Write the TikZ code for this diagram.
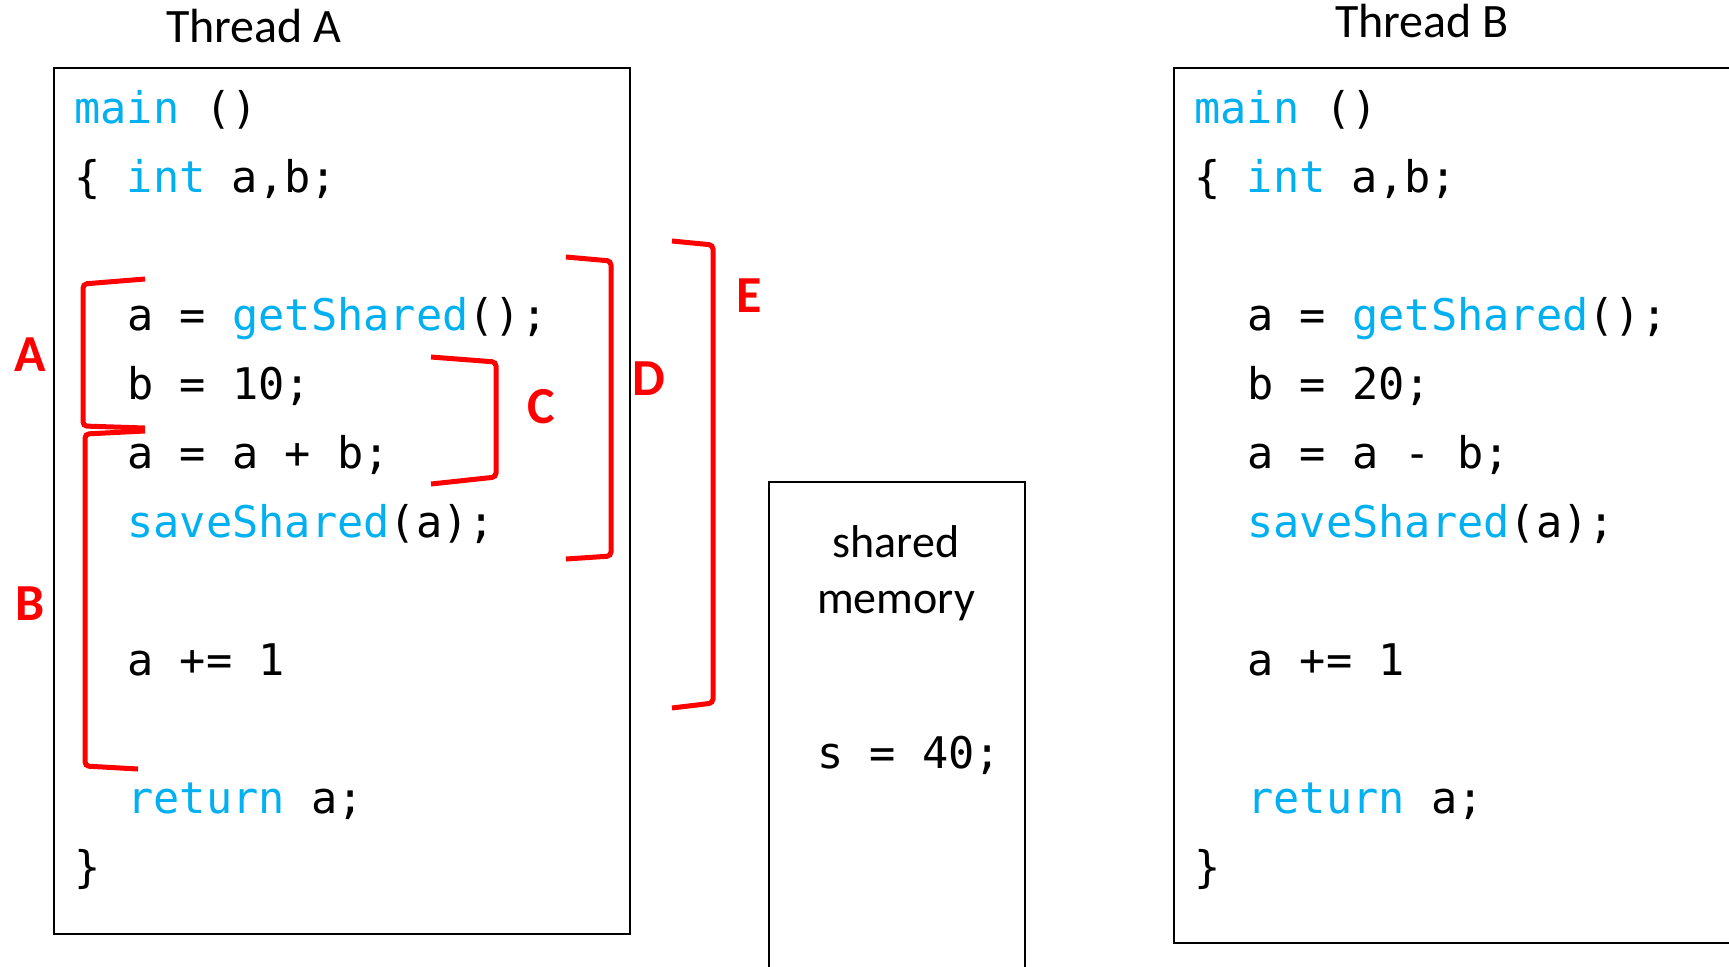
\documentclass[tikz,border=0pt]{standalone}
\usepackage{fontspec}
\setmainfont{Carlito}
\newfontfamily\codefont{DejaVu Sans Mono}
\definecolor{kwblue}{RGB}{0,176,240}
\definecolor{markred}{RGB}{255,0,0}

\begin{document}
\begin{tikzpicture}[x=0.5pt,y=-0.5pt,
  code/.style={anchor=base west, inner sep=0pt, font=\codefont\fontsize{21.8}{26}\selectfont},
  title/.style={anchor=base, inner sep=0pt, font=\fontsize{24}{29}\selectfont},
  marklabel/.style={inner sep=0pt, text=markred, font=\bfseries\fontsize{26}{31}\selectfont},
  box/.style={draw, line width=0.8pt},
  brk/.style={draw=markred, line width=2.5pt, rounded corners=2pt}]
\useasboundingbox (0,0) rectangle (1729,966);

\draw[box] (54,68) rectangle (630,934);
\draw[box] (1174,68) rectangle (1780,943);
\draw[box] (769,482) rectangle (1025,1000);

\node[title] (titleA) at (254,42) {Thread A};
\node[title] (titleB) at (1422,37) {Thread B};

\node[code] (a0) at (74,123.7) {\textcolor{kwblue}{main} ()};
\node[code] (a1) at (74,192.7) {\{ \textcolor{kwblue}{int} a,b;};
\node[code] (a3) at (127,330.7) {a = \textcolor{kwblue}{getShared}();};
\node[code] (a4) at (127,399.7) {b = 10;};
\node[code] (a5) at (127,468.7) {a = a + b;};
\node[code] (a6) at (127,537.7) {\textcolor{kwblue}{saveShared}(a);};
\node[code] (a8) at (127,675.7) {a += 1};
\node[code] (a10) at (127,813.7) {\textcolor{kwblue}{return} a;};
\node[code] (a11) at (74,882.7) {\}};

\node[code] (b0) at (1194,123.7) {\textcolor{kwblue}{main} ()};
\node[code] (b1) at (1194,192.7) {\{ \textcolor{kwblue}{int} a,b;};
\node[code] (b3) at (1247,330.7) {a = \textcolor{kwblue}{getShared}();};
\node[code] (b4) at (1247,399.7) {b = 20;};
\node[code] (b5) at (1247,468.7) {a = a - b;};
\node[code] (b6) at (1247,537.7) {\textcolor{kwblue}{saveShared}(a);};
\node[code] (b8) at (1247,675.7) {a += 1};
\node[code] (b10) at (1247,813.7) {\textcolor{kwblue}{return} a;};
\node[code] (b11) at (1194,882.7) {\}};

\node[title, font=\fontsize{23}{28}\selectfont] (shm1) at (896,557) {shared};
\node[title, font=\fontsize{23}{28}\selectfont] (shm2) at (896,613) {memory};
\node[code] (shv) at (817,768) {s = 40;};

\draw[brk] (145,279) -- (83,284) -- (83,426) -- (145,428);
\draw[brk] (145,431) -- (85,434) -- (85,766) -- (138,769);
\draw[brk] (431,357) -- (496,362) -- (496,477) -- (431,484);
\draw[brk] (566,257) -- (611,261) -- (611,556) -- (566,559);
\draw[brk] (672,241) -- (713,245) -- (713,703) -- (672,708);

\node[marklabel] (lblA) at (30,355) {A};
\node[marklabel] (lblB) at (30,604) {B};
\node[marklabel] (lblC) at (541,407) {C};
\node[marklabel] (lblD) at (649,379) {D};
\node[marklabel] (lblE) at (749,296) {E};
\end{tikzpicture}
\end{document}
